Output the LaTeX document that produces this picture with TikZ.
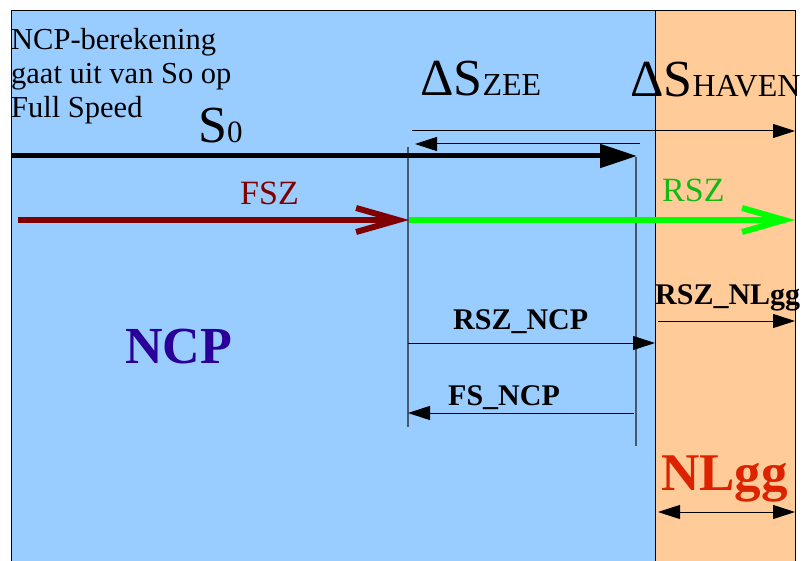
\documentclass[tikz,border=0pt]{standalone}
\usepackage{fontspec}
\setmainfont{Liberation Serif}
\usepackage{xcolor}
\usetikzlibrary{arrows.meta,positioning}
\definecolor{seablue}{HTML}{99CCFF}
\definecolor{peach}{HTML}{FFCC99}
\definecolor{extgray}{RGB}{70,88,108}
\definecolor{fszred}{HTML}{800000}
\definecolor{rszline}{HTML}{00FF00}
\definecolor{rsztext}{HTML}{11BB11}
\definecolor{ncpblue}{HTML}{2A0099}
\definecolor{nlggred}{HTML}{DD2200}
\newcommand{\pxfont}[1]{\fontsize{#1}{#1}\selectfont}

\begin{document}
\begin{tikzpicture}[
    x=1pt, y=-1pt,
    lbl/.style={inner sep=0pt, anchor=base west},
    dim/.style={-{Triangle[length=22pt,width=14pt]}, line width=1pt},
    ext/.style={draw=extgray, line width=1.2pt},
    barb/.style={-{Straight Barb[length=42pt,width=24pt]}, line width=6pt}
]
    \useasboundingbox (0,0) rectangle (805,561);
    \clip (0,0) rectangle (805,561);

    % zones
    \fill[seablue] (11,11) rectangle (655,600);
    \fill[peach] (655,11) rectangle (795,600);
    \draw[line width=1pt] (11,600) -- (11,11) -- (795,11) -- (795,600);
    \draw[line width=1pt] (655,11) -- (655,600);

    % points
    \coordinate (s0a) at (11,156);
    \coordinate (s0b) at (637,156);
    \coordinate (fsza) at (18,220);
    \coordinate (split) at (409,220);
    \coordinate (rszb) at (795,220);
    \coordinate (zeea) at (640,144);
    \coordinate (zeeb) at (415,144);
    \coordinate (havena) at (412,131);
    \coordinate (havenb) at (795,131);
    \coordinate (vla) at (408,147);
    \coordinate (vlb) at (408,427);
    \coordinate (vra) at (636,157);
    \coordinate (vrb) at (636,446);
    \coordinate (rncpa) at (408,343);
    \coordinate (rncpb) at (655,343);
    \coordinate (fncpa) at (634,413);
    \coordinate (fncpb) at (408,413);
    \coordinate (rnla) at (658,321);
    \coordinate (rnlb) at (795,321);
    \coordinate (nla) at (658,512);
    \coordinate (nlb) at (795,512);

    % labels
    \node[lbl, align=left, font=\fontsize{30.5}{34}\selectfont] (intro) at (11,118)
        {NCP-berekening\\gaat uit van So op\\Full Speed};
    \node[lbl] (szero) at (198,143) {\pxfont{52}S\pxfont{31}0};
    \node[lbl] (dszee) at (420,96) {\pxfont{52}ΔS\pxfont{32}ZEE};
    \node[lbl] (dshaven) at (630,97) {\pxfont{52}ΔS\pxfont{32}HAVEN};
    \node[lbl, text=fszred, font=\pxfont{34}] (fsz) at (240,205) {FSZ};
    \node[lbl, text=rsztext, font=\pxfont{34}] (rsz) at (662,202) {RSZ};
    \node[lbl, font=\bfseries\pxfont{30}] (rszncp) at (453,329) {RSZ\_NCP};
    \node[lbl, font=\bfseries\pxfont{30}] (fsncp) at (448,405) {FS\_NCP};
    \node[lbl, font=\bfseries\pxfont{30}] (rsznlgg) at (655,304) {RSZ\_NLgg};
    \node[lbl, text=ncpblue, font=\bfseries\pxfont{52}] (ncp) at (125,363) {NCP};
    \node[lbl, text=nlggred, font=\bfseries\pxfont{53}] (nlgg) at (661,490) {NLgg};

    % extension lines
    \draw[ext] (vla) -- (vlb);
    \draw[ext] (vra) -- (vrb);

    % flows
    \draw[line width=5pt, -{Triangle[length=37pt,width=23pt]}] (s0a) -- (s0b);
    \draw[barb, fszred] (fsza) -- (split);
    \draw[barb, rszline] (split) -- (rszb);

    % dimensions
    \draw[dim] (zeea) -- (zeeb);
    \draw[dim] (havena) -- (havenb);
    \draw[dim] (rncpa) -- (rncpb);
    \draw[dim] (fncpa) -- (fncpb);
    \draw[dim] (rnla) -- (rnlb);
    \draw[dim, {Triangle[length=22pt,width=14pt]}-{Triangle[length=22pt,width=14pt]}] (nla) -- (nlb);
\end{tikzpicture}
\end{document}
